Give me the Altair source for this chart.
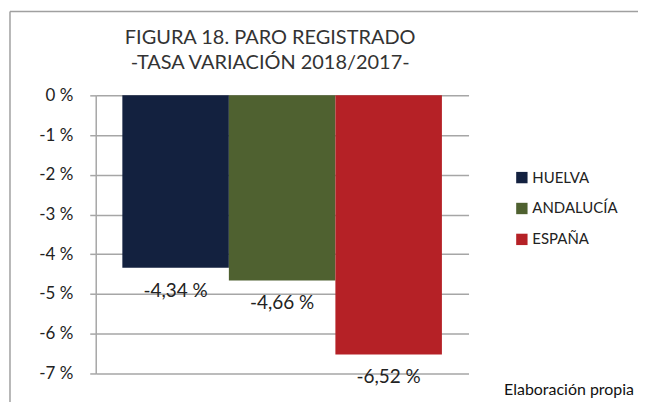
import altair as alt
import pandas as pd

series = ["HUELVA", "ANDALUCÍA", "ESPAÑA"]
values = [-4.34, -4.66, -6.52]
colors = ["#13213f", "#4f6130", "#b52126"]
y_ticks = [0, -1, -2, -3, -4, -5, -6, -7]
title_lines = ["FIGURA 18. PARO REGISTRADO", "-TASA VARIACIÓN 2018/2017-"]
source_note = "Elaboración propia"

labels = [f"{v:.2f}".replace(".", ",") + " %" for v in values]
df = pd.DataFrame({"serie": series, "valor": values, "etiqueta": labels})

W, H = 374, 279
FONT = "Lato"

xscale = alt.Scale(domain=series, paddingInner=0, paddingOuter=0.25)
yscale = alt.Scale(domain=[-7, 0], nice=False, zero=True)

yaxis = alt.Axis(values=y_ticks, title=None, grid=True,
                 gridColor="#a6a6a6", gridWidth=1.5,
                 domainColor="#a6a6a6", domainWidth=1.5,
                 tickColor="#a6a6a6", tickSize=6, tickWidth=1.5,
                 labelExpr="datum.value + ' %'", labelOverlap=False,
                 labelFont=FONT, labelFontSize=17, labelColor="#222222",
                 labelPadding=17)

bars = alt.Chart(df).mark_bar().encode(
    x=alt.X("serie:N", scale=xscale, axis=None, sort=series),
    y=alt.Y("valor:Q", scale=yscale, axis=yaxis),
    color=alt.Color("serie:N", sort=series,
                    scale=alt.Scale(domain=series, range=colors),
                    legend=alt.Legend(title=None, orient="none", legendX=420, legendY=75,
                                      symbolType="square", symbolSize=130,
                                      symbolStrokeWidth=0,
                                      labelFont=FONT, labelFontSize=15,
                                      labelColor="#222222", labelOffset=3,
                                      rowPadding=15, padding=0)),
)

text = alt.Chart(df).mark_text(dy=23, baseline="middle", font=FONT, fontSize=19,
                               color="#222222").encode(
    x=alt.X("serie:N", scale=xscale, sort=series, axis=None),
    y=alt.Y("valor:Q", scale=yscale, axis=yaxis),
    text="etiqueta:N",
)


def text_line(s, x, y, size, color, align="center", weight="normal"):
    return alt.Chart(pd.DataFrame({"t": [s]})).mark_text(
        font=FONT, fontSize=size, color=color, baseline="middle",
        align=align, fontWeight=weight,
    ).encode(x=alt.value(x), y=alt.value(y), text="t:N")


title1 = text_line(title_lines[0], 175, -58, 20, "#333333")
title2 = text_line(title_lines[1], 175, -32, 20, "#333333")
note = text_line(source_note, 540, 296, 16, "#111111", align="right")

border = alt.Chart(pd.DataFrame({"a": [0]})).mark_rule(color="#a0a0a0", strokeWidth=1.5).encode(
    x=alt.value(-86), x2=alt.value(W + 170), y=alt.value(-84)
)
border_left = alt.Chart(pd.DataFrame({"a": [0]})).mark_rule(color="#a0a0a0", strokeWidth=1.5).encode(
    x=alt.value(-86), y=alt.value(-84), y2=alt.value(H + 30)
)

chart = alt.layer(border, border_left, bars, text, title1, title2, note).properties(
    width=W, height=H,
    autosize=alt.AutoSizeParams(type="none"),
    padding={"left": 88, "top": 87, "right": 170, "bottom": 28},
).configure_view(stroke=None).configure_axis(labelOverlap=False)

chart.save("out.html", embed_options={"renderer": "svg", "actions": False})
